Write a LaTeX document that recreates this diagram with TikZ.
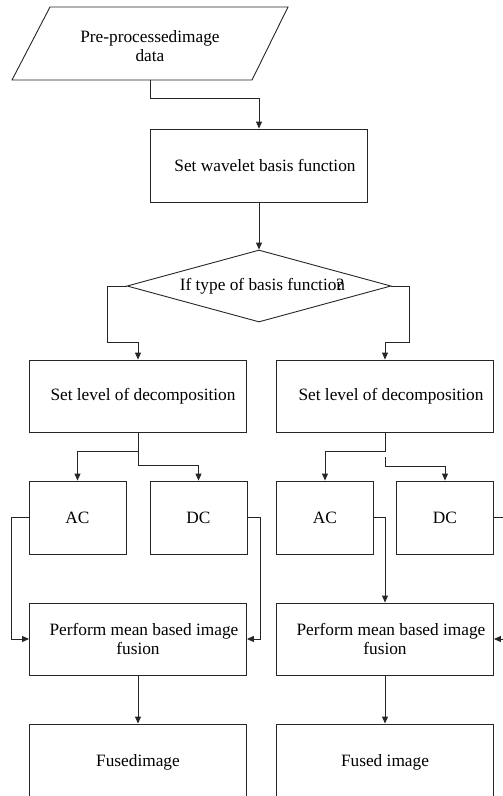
\documentclass[tikz,border=0pt]{standalone}
\usepackage{fontspec}
\setmainfont{Liberation Serif}
\usetikzlibrary{arrows.meta,shapes.geometric,calc}
\newcommand\flowfont{\fontsize{17.3}{19}\selectfont}
\begin{document}
\begin{tikzpicture}[x=1pt,y=-1pt,
  every node/.style={font=\flowfont,text=black},
  line/.style={draw=black!85,line width=0.9pt},
  arr/.style={line,-{Triangle[width=6pt,length=7pt]}},
  stepbox/.style={line,rectangle,inner sep=0pt,minimum height=72pt,align=center},
  wide/.style={stepbox,minimum width=217pt},
  narrow/.style={stepbox,minimum width=97pt,minimum height=73pt}]
\path[use as bounding box] (0,0) rectangle (503,796);
\clip (0,0) rectangle (503,796);

% input data (parallelogram)
\draw[line] (50,7) -- (288,7) -- (252,80) -- (12,80) -- cycle;
\node[align=center] (in) at (150,46) {Pre-processedimage\\data};
\coordinate (inb) at (150,80);

% main chain
\node[wide,minimum height=73pt] (basis) at (259,165.5) {\hspace*{12pt}Set wavelet basis function};
\node[diamond,line,inner sep=0pt,aspect=3.67,minimum width=264pt,minimum height=72pt] (dia) at (259,286) {\hspace*{6pt}If type of basis functio\rlap{n}?};

% two branches
\node[wide] (setL) at (138,396) {\hspace*{10pt}Set level of decomposition};
\node[wide] (setR) at (385,396) {\hspace*{12pt}Set level of decomposition};
\node[narrow] (acL) at (77.5,517.5) {AC};
\node[narrow] (dcL) at (198.5,517.5) {DC};
\node[narrow] (acR) at (325,517.5) {AC};
\node[narrow] (dcR) at (445,517.5) {DC};
\node[wide] (perL) at (138,639) {\hspace*{12pt}Perform mean based image\\fusion};
\node[wide] (perR) at (385,639) {\hspace*{12pt}Perform mean based image\\fusion};
\node[wide,minimum height=76pt] (fusL) at (138,762) {Fusedimage};
\node[wide,minimum height=76pt] (fusR) at (385,762) {Fused image};

% connectors
\draw[arr] (inb) -- ++(0,18) -| (basis.north);
\draw[arr] (basis.south) -- (dia.north);
\draw[arr] (dia.west) -| (107,342) -| (setL.north);
\draw[arr] (dia.east) -| (409,342) -| (setR.north);

\draw[arr] (setL.south) -- ++(0,19) -| (acL.north);
\draw[arr] (setL.south) -- ++(0,33) -| (dcL.north);
\draw[arr] (setR.south) -- ++(0,19) -| (acR.north);
\coordinate (rs) at ($(setR.south)+(0,25)$);
\draw[arr] (rs) -- ++(0,9) -| (dcR.north);

\draw[arr] (acL.west) -- ++(-17,0) |- (perL.west);
\draw[arr] (dcL.east) -- ++(13,0) |- (perL.east);
\draw[arr] (acR.east) -| (perR.north);
\draw[arr] (dcR.east) -- ++(15,0) |- (perR.east);

\draw[arr] (perL.south) -- (fusL.north);
\draw[arr] (perR.south) -- (fusR.north);
\end{tikzpicture}
\end{document}
